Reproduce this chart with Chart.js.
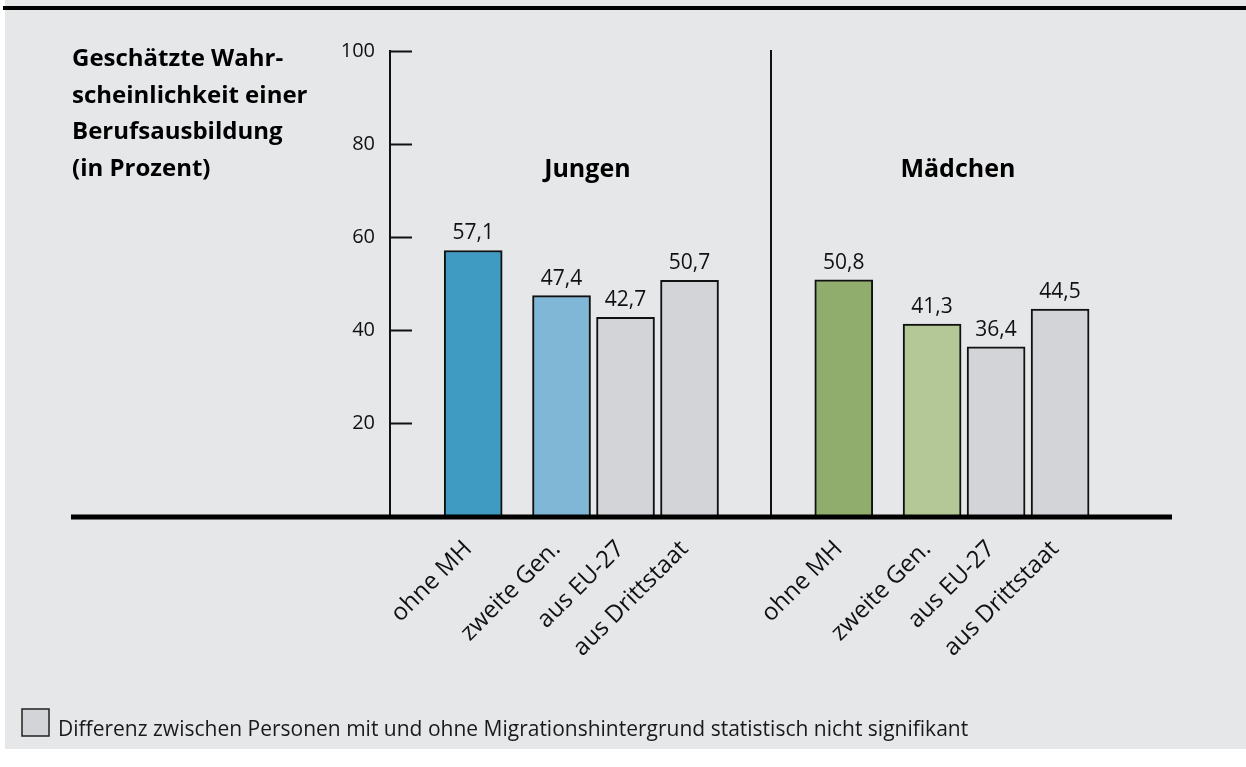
<!DOCTYPE html>
<html lang="de">
<head>
<meta charset="utf-8">
<title>Berufsausbildung nach Migrationshintergrund</title>
<script src="https://cdn.jsdelivr.net/npm/chart.js@4.4.1/dist/chart.umd.min.js"></script>
<style>
  html, body { margin: 0; padding: 0; background: #fff; }
  canvas { display: block; }
</style>
</head>
<body>
<canvas id="chart" width="1246" height="767"></canvas>
<script>
const groups = ['Jungen', 'Mädchen'];
const categories = ['ohne MH', 'zweite Gen.', 'aus EU-27', 'aus Drittstaat'];
const jungen = [57.1, 47.4, 42.7, 50.7];
const maedchen = [50.8, 41.3, 36.4, 44.5];
const yTicks = [20, 40, 60, 80, 100];
const titleLines = ['Geschätzte Wahr-', 'scheinlichkeit einer', 'Berufsausbildung', '(in Prozent)'];
const note = 'Differenz zwischen Personen mit und ohne Migrationshintergrund statistisch nicht signifikant';

// first two bars of each group get their own colour, the rest are grey (not significant)
const groupColors = [['#3f9bc1', '#80b6d6'], ['#90ad6d', '#b4c796']];
const grey = '#d3d4d7';
const ink = '#111';
const FONT = "'Open Sans', sans-serif";

// x axis runs in "bar slots" of 64px, ohne MH stands a bit apart from the rest
const slotPx = 64;
const groupStart = [1.3, 7.09];
const dividerAt = 5.95;
function slotPos(g, i) {
    return groupStart[g] + (i === 0 ? 0 : 0.38 + i);
}

const series = [jungen, maedchen];
var points = [];
var fills = [];
var barLabels = [];
series.forEach((vals, g) => {
    vals.forEach((v, i) => {
        points.push({x: slotPos(g, i), y: v});
        fills.push(i < 2 ? groupColors[g][i] : grey);
        barLabels.push(categories[i]);
    });
});

const decor = {
    id: 'decor',
    beforeDraw(chart) {
        const ctx = chart.ctx;
        ctx.save();
        ctx.fillStyle = '#e6e7e9';
        ctx.fillRect(5, 0, chart.width - 5, 749);
        ctx.fillStyle = '#000';
        ctx.fillRect(3, 6, chart.width - 3, 4);
        ctx.restore();
    },
    afterDatasetsDraw(chart) {
        const ctx = chart.ctx;
        const area = chart.chartArea;
        const x = chart.scales.x;
        const y = chart.scales.y;
        ctx.save();

        // value labels
        ctx.fillStyle = ink;
        ctx.font = '21px ' + FONT;
        ctx.textAlign = 'center';
        ctx.textBaseline = 'alphabetic';
        chart.getDatasetMeta(0).data.forEach((bar, i) => {
            ctx.fillText(points[i].y.toFixed(1).replace('.', ','), bar.x, bar.y - 11);
        });

        // inner tick marks on the y axis
        ctx.strokeStyle = ink;
        ctx.lineWidth = 2;
        yTicks.forEach(v => {
            const py = Math.round(y.getPixelForValue(v)) + 0.5;
            ctx.beginPath();
            ctx.moveTo(area.left, py);
            ctx.lineTo(area.left + 22, py);
            ctx.stroke();
        });

        // divider between Jungen and Mädchen
        const dx = Math.round(x.getPixelForValue(dividerAt));
        ctx.beginPath();
        ctx.moveTo(dx, area.top - 1);
        ctx.lineTo(dx, area.bottom);
        ctx.stroke();

        // thick baseline
        ctx.fillStyle = '#000';
        ctx.fillRect(71, area.bottom - 1.5, area.right - 71, 5);

        // group headings
        ctx.font = 'bold 25px ' + FONT;
        ctx.textAlign = 'center';
        groups.forEach((g, gi) => {
            const mid = (x.getPixelForValue(slotPos(gi, 0)) + x.getPixelForValue(slotPos(gi, 3))) / 2 + 6;
            ctx.fillText(g, mid, 177);
        });

        // axis title
        ctx.font = 'bold 24px ' + FONT;
        ctx.textAlign = 'left';
        titleLines.forEach((line, i) => {
            ctx.fillText(line, 72, 66 + i * 36.7);
        });

        // footnote with grey swatch
        ctx.fillStyle = grey;
        ctx.fillRect(22, 709, 27, 27);
        ctx.lineWidth = 1.5;
        ctx.strokeStyle = '#222';
        ctx.strokeRect(22, 709, 27, 27);
        ctx.fillStyle = '#1a1a1a';
        ctx.font = '21px ' + FONT;
        ctx.fillText(note, 58, 736);
        ctx.restore();
    }
};

Chart.defaults.font.family = FONT;

new Chart(document.getElementById('chart'), {
    type: 'bar',
    data: {
        datasets: [{
            data: points,
            backgroundColor: fills,
            borderColor: ink,
            borderWidth: 2,
            borderSkipped: 'start',
            barThickness: 58
        }]
    },
    options: {
        responsive: false,
        animation: false,
        layout: { padding: { top: 51, right: 74, left: 0, bottom: 0 } },
        plugins: {
            legend: { display: false },
            tooltip: { enabled: false }
        },
        scales: {
            x: {
                type: 'linear',
                offset: false,
                min: 0,
                max: 782 / slotPx,
                grid: { display: false, drawTicks: false, offset: false },
                border: { display: false },
                afterBuildTicks: s => { s.ticks = points.map(p => ({value: p.x})); },
                afterFit: s => {
                    s.height = 251;
                    s.paddingLeft = 0;
                    s.paddingRight = 0;
                },
                ticks: {
                    autoSkip: false,
                    minRotation: 45,
                    maxRotation: 45,
                    padding: 19,
                    labelOffset: -5,
                    color: ink,
                    font: { size: 24 },
                    callback: (v, i) => barLabels[i]
                }
            },
            y: {
                min: 0,
                max: 100,
                grid: { display: false, drawTicks: false },
                border: { display: true, color: ink, width: 2 },
                afterBuildTicks: s => { s.ticks = yTicks.map(v => ({value: v})); },
                afterFit: s => { s.width = 390; },
                ticks: { padding: 15, color: ink, font: { size: 20 } }
            }
        }
    },
    plugins: [decor]
});
</script>
</body>
</html>
